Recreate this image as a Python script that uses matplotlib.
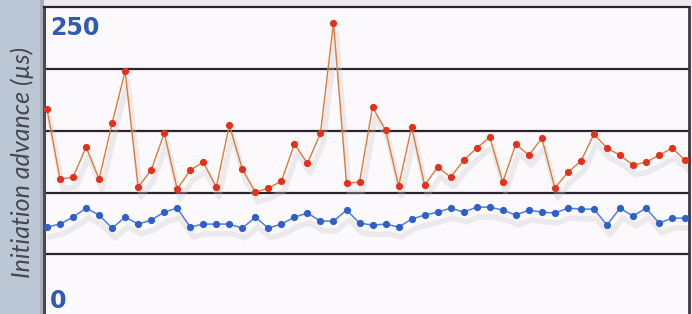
import matplotlib
matplotlib.use("Agg")
import matplotlib.pyplot as plt
import matplotlib.transforms as mtransforms
import numpy as np

red_values = [167.4, 110.8, 112.4, 136.7, 110.8, 156.1, 198.1, 104.4, 118.1, 148.0,
              102.7, 118.1, 124.6, 104.4, 154.4, 118.9, 100.3, 103.6, 109.2, 139.1,
              123.7, 148.0, 237.1, 107.6, 108.4, 169.0, 150.4, 105.2, 152.8, 106.0,
              120.5, 112.4, 126.2, 135.9, 144.7, 108.4, 139.1, 130.2, 143.9, 103.6,
              116.5, 125.4, 147.2, 135.9, 130.2, 122.1, 124.6, 130.2, 135.9, 126.2]
blue_values = [72.1, 74.5, 80.1, 87.4, 81.8, 71.2, 80.1, 74.5, 77.7, 84.2,
               87.4, 72.1, 74.5, 74.5, 74.5, 71.2, 80.1, 71.2, 74.5, 80.1,
               83.4, 76.9, 76.9, 85.8, 75.3, 73.7, 74.5, 72.1, 78.5, 81.8,
               84.2, 87.4, 84.2, 88.2, 88.2, 85.8, 81.8, 85.8, 84.2, 83.4,
               87.4, 86.6, 86.6, 73.7, 87.4, 81.0, 87.4, 75.3, 79.3, 79.3]
grid_levels = [50, 100, 150, 200]
y_top_label = "250"
y_bottom_label = "0"
y_title = "Initiation advance (µs)"

W, H = 692, 314
fig = plt.figure(figsize=(W / 100, H / 100), dpi=100)
fig.patch.set_facecolor("#ece8f0")

# left label strip
strip = fig.add_axes([0, 0, 40 / W, 1])
strip.set_facecolor("#bcc7d5")
strip.set_xticks([]); strip.set_yticks([])
for s in strip.spines.values():
    s.set_visible(False)
strip.text(0.55, 0.483, y_title, rotation=90, ha="center", va="center",
           fontsize=18, style="italic", family=["Lato", "DejaVu Sans"],
           color="#46464e", transform=strip.transAxes)

band = fig.add_axes([40 / W, 0, 4 / W, 1])
band.set_facecolor("#a9b0ba")
band.set_xticks([]); band.set_yticks([])
for s in band.spines.values():
    s.set_visible(False)

top_px = 7
ax = fig.add_axes([44 / W, 0, 645 / W, (H - top_px) / H])
ax.set_facecolor("#fbf9fb")
x = np.arange(len(red_values))
ax.set_xlim(-0.23, 49.3)
ax.set_ylim(1.8, 250)

for lv in grid_levels:
    ax.axhline(lv, color="#2b2430", lw=1.6, zorder=1)

shadow = mtransforms.offset_copy(ax.transData, fig=fig, x=2, y=-7, units="points")
ax.plot(x, red_values, color="#c8c4cc", lw=4, alpha=0.3, transform=shadow, zorder=2)
ax.plot(x, blue_values, color="#c8c4cc", lw=4, alpha=0.3, transform=shadow, zorder=2)

ax.plot(x, red_values, color="#dc7c3c", lw=1.0, zorder=3)
ax.plot(x, red_values, ls="none", marker="o", ms=5.2, color="#e5301c",
        markeredgewidth=0, zorder=4)
ax.plot(x, blue_values, color="#4f7fe0", lw=1.1, zorder=3)
ax.plot(x, blue_values, ls="none", marker="o", ms=5.2, color="#2f5fc8",
        markeredgewidth=0, zorder=4)

ax.set_xticks([]); ax.set_yticks([])
ax.spines["bottom"].set_visible(False)
ax.spines["left"].set_color("#4a4a52"); ax.spines["left"].set_linewidth(2.2)
ax.spines["top"].set_color("#2b2430"); ax.spines["top"].set_linewidth(1.6)
ax.spines["right"].set_color("#3a3a40"); ax.spines["right"].set_linewidth(2)

ax.text(6 / 645, 250 - 7.5, y_top_label, ha="left", va="top", fontsize=17,
        fontweight="bold", color="#2f5bb5", transform=ax.get_yaxis_transform(), zorder=5)
ax.text(6 / 645, 2.5, y_bottom_label, ha="left", va="bottom", fontsize=17,
        fontweight="bold", color="#2f5bb5", transform=ax.get_yaxis_transform(), zorder=5)

fig.savefig("out.png", dpi=100, facecolor=fig.get_facecolor())
